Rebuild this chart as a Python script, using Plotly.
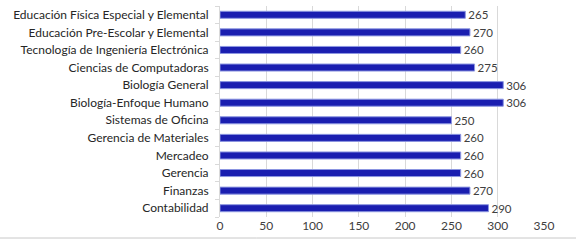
import plotly.graph_objects as go

categories = [
    "Contabilidad",
    "Finanzas",
    "Gerencia",
    "Mercadeo",
    "Gerencia de Materiales",
    "Sistemas de Oficina",
    "Biología-Enfoque Humano",
    "Biología General",
    "Ciencias de Computadoras",
    "Tecnología de Ingeniería Electrónica",
    "Educación Pre-Escolar y Elemental",
    "Educación Física Especial y Elemental",
]
values = [290, 270, 260, 260, 260, 250, 306, 306, 275, 260, 270, 265]
x_ticks = [0, 50, 100, 150, 200, 250, 300, 350]

FONT = "Lato, Liberation Sans, sans-serif"

fig = go.Figure(
    go.Bar(
        x=values,
        y=categories,
        orientation="h",
        marker=dict(color="rgb(26,30,176)", line=dict(color="rgb(140,150,225)", width=1)),
        text=[str(v) for v in values],
        textposition="outside",
        constraintext="none",
        textfont=dict(family=FONT, size=11.5, color="#404040"),
        cliponaxis=False,
        hoverinfo="skip",
    )
)

fig.update_layout(
    width=576,
    height=240,
    margin=dict(l=220, r=32, t=6, b=23, autoexpand=False),
    paper_bgcolor="white",
    plot_bgcolor="white",
    bargap=0.6,
    showlegend=False,
    font=dict(family=FONT, color="#404040"),
    shapes=[
        dict(type="line", xref="paper", yref="paper", x0=-220 / 324, x1=1 + 32 / 324,
             y0=-21 / 211, y1=-21 / 211, line=dict(color="#c8c8c8", width=1)),
    ],
)
fig.update_xaxes(
    range=[0, 350],
    tickvals=x_ticks,
    showgrid=True,
    gridcolor="#d9d9d9",
    gridwidth=1,
    zeroline=False,
    showline=False,
    automargin=False,
    tickfont=dict(family=FONT, size=12, color="#404040"),
    ticks="",
)
fig.update_yaxes(
    type="category",
    categoryorder="array",
    categoryarray=categories,
    showline=True,
    linecolor="#d9d9d9",
    ticks="outside",
    tickson="boundaries",
    ticklen=4,
    tickcolor="#d9d9d9",
    ticklabelstandoff=8,
    showgrid=False,
    automargin=False,
    tickfont=dict(family=FONT, size=12, color="#262626"),
)

fig.write_html(
    "out.html",
    config={"displayModeBar": False},
    post_script="document.body.style.margin='0';document.body.style.padding='0';",
)
